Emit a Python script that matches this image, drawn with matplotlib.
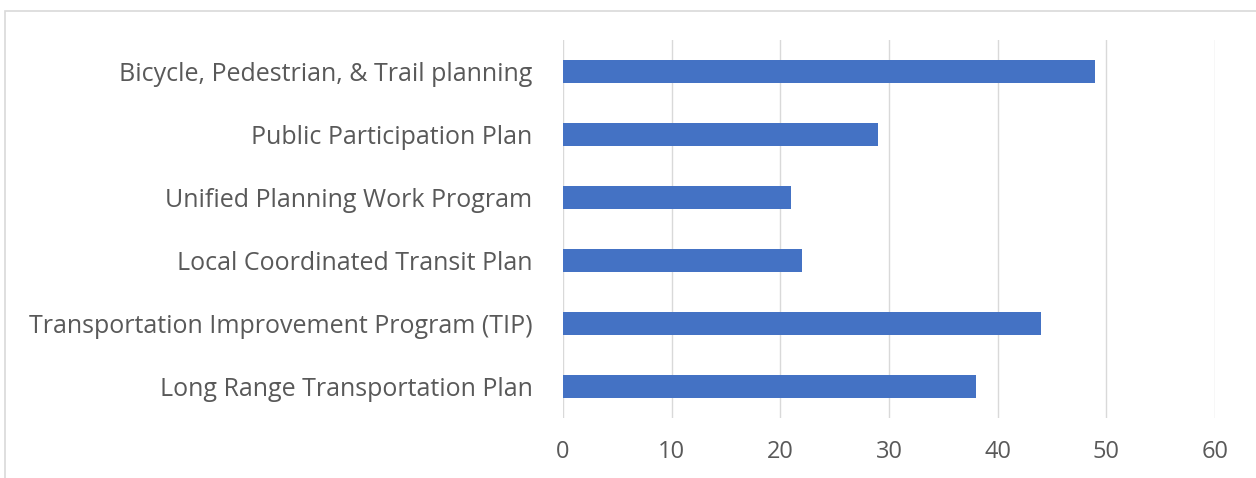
import matplotlib.pyplot as plt
from matplotlib.patches import Rectangle

categories = ["Long Range Transportation Plan",
              "Transportation Improvement Program (TIP)",
              "Local Coordinated Transit Plan",
              "Unified Planning Work Program",
              "Public Participation Plan",
              "Bicycle, Pedestrian, & Trail planning"]
counts = [38, 44, 22, 21, 29, 49]
xticks = [0, 10, 20, 30, 40, 50, 60]

plt.rcParams['font.family'] = ['Open Sans', 'DejaVu Sans']

W, H = 1256, 478
fig = plt.figure(figsize=(W / 100, H / 100), dpi=100)
ax = fig.add_axes([563 / W, 1 - 418 / H, (1215 - 563) / W, (418 - 40) / H])

ax.barh(range(len(categories)), counts, height=0.35, color="#4472C4", zorder=3)
ax.set_xlim(0, 60)
ax.set_ylim(-0.5, len(categories) - 0.5)
ax.set_xticks(xticks)
ax.set_yticks(range(len(categories)))
ax.set_yticklabels(categories)
ax.grid(axis="x", color="#D9D9D9", lw=1, zorder=0)
for s in ax.spines.values():
    s.set_visible(False)
ax.tick_params(axis="both", length=0, colors="#595959")
ax.tick_params(axis="y", labelsize=18, pad=22)
ax.tick_params(axis="x", labelsize=17, pad=16)

# outer chart border (partially cropped in the reference)
fig.patches.append(Rectangle((4.5 / W, -0.2), 2, 1.2 - 10.5 / H, transform=fig.transFigure,
                             fill=False, edgecolor="#D9D9D9", lw=1.2))

fig.savefig("out.png", dpi=100)
